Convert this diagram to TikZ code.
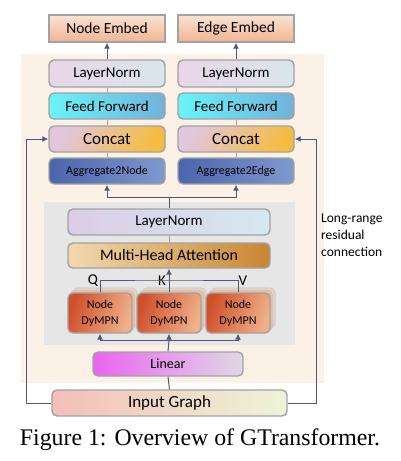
\documentclass[tikz,border=0pt]{standalone}
\usepackage{fontspec}
\setmainfont{Carlito}
\newfontfamily\capfont{Liberation Serif}
\usepackage{tikz}
\usetikzlibrary{positioning}
\usetikzlibrary{arrows.meta}

\definecolor{lineclr}{HTML}{4F5A6E}
\definecolor{bordclr}{HTML}{A2A2A2}
\definecolor{bgpeach}{HTML}{FBF1E7}
\definecolor{panelgray}{HTML}{E6E6E6}
\definecolor{embtop}{HTML}{FBE3D3}
\definecolor{embbot}{HTML}{F1B493}
\definecolor{lnleft}{HTML}{E8D6E8}
\definecolor{lnright}{HTML}{D9E6EA}
\definecolor{ffleft}{HTML}{68F4FA}
\definecolor{ffright}{HTML}{72B2DB}
\definecolor{catleft}{HTML}{E2C6DD}
\definecolor{catright}{HTML}{F4BD42}
\definecolor{aggleft}{HTML}{4B64AE}
\definecolor{aggright}{HTML}{8099CE}
\definecolor{lnwleft}{HTML}{DCCCE6}
\definecolor{lnwright}{HTML}{D4E9F0}
\definecolor{mhaleft}{HTML}{F1D9AF}
\definecolor{mharight}{HTML}{C8862F}
\definecolor{dyleft}{HTML}{D0502A}
\definecolor{dyright}{HTML}{EFB08A}
\definecolor{dyback}{HTML}{F0BC9C}
\definecolor{linleft}{HTML}{EA64F0}
\definecolor{linright}{HTML}{DFD8E5}
\definecolor{inpleft}{HTML}{F3BFB7}
\definecolor{inpright}{HTML}{EEF4D8}

\tikzset{
    blk/.style={draw=bordclr, line width=1.4pt, rounded corners=5pt, inner sep=0pt},
    arr/.style={draw=lineclr, line width=1pt, -{Latex[length=6pt,width=6pt]}},
    ln/.style={draw=lineclr, line width=1pt},
    thin/.style={draw=bordclr, line width=0.8pt},
}

\begin{document}
\begin{tikzpicture}[x=1pt, y=-1pt]
    \useasboundingbox (0,0) rectangle (400,461);
    % backgrounds
    \fill[bgpeach] (21,54) rectangle (324,383);
    \fill[panelgray] (44,202) rectangle (295,345);

    % outputs
    \node[blk, rounded corners=0pt, minimum width=116pt, minimum height=27pt, top color=embtop, bottom color=embbot, font=\fontsize{15.5}{18}\selectfont] (nemb) at (107,28.5) {Node Embed};
    \node[blk, rounded corners=0pt, minimum width=116pt, minimum height=27pt, top color=embtop, bottom color=embbot, font=\fontsize{15.5}{18}\selectfont] (eemb) at (236,28.5) {Edge Embed};

    % node column
    \node[blk, minimum width=116pt, minimum height=27pt, left color=lnleft, right color=lnright, font=\fontsize{15}{18}\selectfont] (lnn) at (107,73.5) {LayerNorm};
    \node[blk, minimum width=116pt, minimum height=26pt, left color=ffleft, right color=ffright, font=\fontsize{15}{18}\selectfont] (ffn) at (107,106) {Feed Forward};
    \node[blk, minimum width=116pt, minimum height=26pt, left color=catleft, right color=catright, shading angle=60, font=\fontsize{17}{20}\selectfont] (catn) at (107,139) {Concat};
    \node[blk, minimum width=116pt, minimum height=26pt, left color=aggleft, right color=aggright, font=\fontsize{12}{14}\selectfont] (aggn) at (107,171) {Aggregate2Node};

    % edge column
    \node[blk, minimum width=116pt, minimum height=27pt, left color=lnleft, right color=lnright, font=\fontsize{15}{18}\selectfont] (lne) at (236,73.5) {LayerNorm};
    \node[blk, minimum width=116pt, minimum height=26pt, left color=ffleft, right color=ffright, font=\fontsize{15}{18}\selectfont] (ffe) at (236,106) {Feed Forward};
    \node[blk, minimum width=116pt, minimum height=26pt, left color=catleft, right color=catright, shading angle=60, font=\fontsize{17}{20}\selectfont] (cate) at (236,139) {Concat};
    \node[blk, minimum width=116pt, minimum height=26pt, left color=aggleft, right color=aggright, font=\fontsize{12}{14}\selectfont] (agge) at (236,171) {Aggregate2Edge};

    % attention block
    \node[blk, minimum width=202pt, minimum height=26pt, left color=lnwleft, right color=lnwright, font=\fontsize{15}{18}\selectfont] (lnw) at (169,222) {LayerNorm};
    \node[blk, minimum width=202pt, minimum height=25pt, left color=mhaleft, right color=mharight, font=\fontsize{16}{19}\selectfont] (mha) at (169,255.5) {Multi-Head Attention};

    % DyMPN stacks
    \foreach \nm/\cx in {q/100, k/169, v/238} {
        \node[blk, minimum width=64pt, minimum height=40pt, fill=dyback!70!white, draw=bordclr!50] at (\cx+5,308) {};
        \node[blk, minimum width=64pt, minimum height=40pt, fill=dyback, draw=bordclr!60] at (\cx+2.5,310.5) {};
        \node[blk, minimum width=64pt, minimum height=40pt, left color=dyleft, right color=dyright, shading angle=70, align=center, font=\fontsize{12}{16}\selectfont] (dy\nm) at (\cx,313) {Node\\DyMPN};
    }

    \node[blk, minimum width=150pt, minimum height=24pt, left color=linleft, right color=linright, font=\fontsize{14}{17}\selectfont] (lin) at (168,364) {Linear};
    \node[blk, minimum width=235pt, minimum height=26pt, left color=inpleft, right color=inpright, font=\fontsize{17}{20}\selectfont] (inp) at (169.5,403) {Input Graph};

    % Q K V labels
    \node[font=\fontsize{15}{18}\selectfont] (ql) at (93,281) {Q};
    \node[font=\fontsize{15}{18}\selectfont] (kl) at (162,281) {K};
    \node[font=\fontsize{15}{18}\selectfont] (vl) at (243,281) {V};

    \node[anchor=north west, align=left, inner sep=0pt, font=\fontsize{13.5}{17}\selectfont] (lrtxt) at (321,214) {Long-range\\residual\\connection};

    \node[font=\capfont\fontsize{23.8}{26}\selectfont] (cap) at (200,440) {Figure 1: Overview of GTransformer.};

    % connectors inside columns
    \draw[thin] (lnn) -- (ffn); \draw[thin] (ffn) -- (catn); \draw[thin] (catn) -- (aggn);
    \draw[thin] (lne) -- (ffe); \draw[thin] (ffe) -- (cate); \draw[thin] (cate) -- (agge);
    \draw[thin] (mha) -- (lnw);
    \draw[arr] (lnn) -- (nemb);
    \draw[arr] (lne) -- (eemb);

    % split to aggregators
    \coordinate (jn) at (169,197);
    \draw[ln] (lnw.north) -- (jn);
    \draw[arr] (jn) -| (aggn.south);
    \draw[arr] (jn) -| (agge.south);

    % Q K V into attention
    \coordinate (qkv) at (169,280);
    \draw[ln] (dyq.north) |- (qkv) -| (dyv.north);
    \draw[arr] (dyk.north) -- (mha.south);

    % linear to DyMPN
    \coordinate (lsplit) at (169,340);
    \draw[ln] (inp.north) -- (lin.south);
    \draw[ln] (lin.north) -- (lsplit);
    \draw[arr] (lsplit) -| (dyq.south);
    \draw[arr] (lsplit) -- (dyk.south);
    \draw[arr] (lsplit) -| (dyv.south);

    % long-range residual
    \draw[arr] (inp.west) -- ++(-25,0) |- (catn.west);
    \draw[arr] (inp.east) -- ++(29,0) |- (cate.east);
\end{tikzpicture}
\end{document}
